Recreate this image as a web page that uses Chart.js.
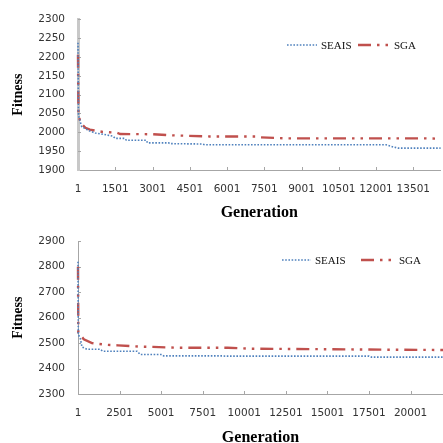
<!DOCTYPE html>
<html><head><meta charset="utf-8">
<script src="https://cdn.jsdelivr.net/npm/chart.js@4/dist/chart.umd.min.js"></script>
<style>
html,body{margin:0;padding:0;background:#fff;overflow:hidden;width:443px;height:443px;position:relative}
#w1{position:absolute;left:0;top:0;width:443px;height:222px}
#w2{position:absolute;left:0;top:222px;width:443px;height:226px}
</style></head><body>
<div id="w1"><canvas id="c1"></canvas></div>
<div id="w2"><canvas id="c2"></canvas></div>
<script>
// ---- data ----
const seriesNames = ['SEAIS', 'SGA'];

const topGenSEAIS = [1, 20, 150, 450, 700, 1000, 1400, 1500, 1880, 1950, 2750, 2800, 3650, 3700, 5000, 5100, 12400, 12700, 12900, 14600];
const topSEAIS    = [2238, 2045, 2015, 2004, 1998, 1995, 1990, 1984, 1984, 1979, 1979, 1972, 1972, 1970, 1969, 1967, 1967, 1961, 1958, 1958];
const topGenSGA   = [1, 20, 100, 300, 480, 1000, 1560, 1700, 3000, 3800, 5300, 7150, 7250, 8300, 14000, 14600];
const topSGA      = [2206, 2048, 2025, 2012, 2007, 2001, 1999, 1995.5, 1995, 1992, 1989, 1989, 1987, 1984, 1984, 1983];
const topXTicks   = [1, 1501, 3001, 4501, 6001, 7501, 9001, 10501, 12001, 13501];

const botGenSEAIS = [1, 20, 150, 240, 540, 1320, 1500, 3550, 3750, 5050, 5150, 8700, 8850, 17500, 17650, 21950];
const botSEAIS    = [2820, 2535, 2515, 2485, 2476, 2476, 2468, 2468, 2455, 2455, 2450, 2450, 2449, 2449, 2445, 2445];
const botGenSGA   = [1, 20, 150, 350, 840, 1750, 2400, 3700, 4500, 5900, 9000, 10300, 14800, 18700, 21950];
const botSGA      = [2800, 2542, 2531, 2515, 2500, 2493, 2491, 2486, 2485, 2482, 2482, 2478, 2476, 2474, 2473];
const botXTicks   = [1, 2501, 5001, 7501, 10001, 12501, 15001, 17501, 20001];

const xTitle = 'Generation';
const yTitle = 'Fitness';

// ---- helpers ----
function pts(g, v){ return g.map((x,i)=>({x:x, y:v[i]})); }

const innerTicks = {
  id: 'innerTicks',
  beforeDatasetsDraw(chart){
    const ctx = chart.ctx, xs = chart.scales.x, ys = chart.scales.y;
    ctx.save();
    ctx.strokeStyle = '#a6a6a6'; ctx.lineWidth = 1;
    ctx.beginPath();
    xs.ticks.forEach((t,i)=>{ if(i===0) return; const p = Math.round(xs.getPixelForValue(t.value))+0.5;
      ctx.moveTo(p, xs.top); ctx.lineTo(p, xs.top-3); });
    ys.ticks.forEach((t,i)=>{ if(i===0) return; const p = Math.round(ys.getPixelForValue(t.value))+0.5;
      ctx.moveTo(ys.right, p); ctx.lineTo(ys.right+3, p); });
    ctx.stroke();
    ctx.restore();
  }
};

const inLegend = {
  id: 'inLegend',
  afterDatasetsDraw(chart, args, opts){
    const ctx = chart.ctx;
    ctx.save();
    chart.data.datasets.forEach((ds,i)=>{
      const it = opts.items[i];
      ctx.strokeStyle = ds.borderColor; ctx.lineWidth = ds.borderWidth;
      ctx.setLineDash(ds.borderDash || []);
      ctx.beginPath(); ctx.moveTo(it[0], opts.y); ctx.lineTo(it[1], opts.y); ctx.stroke();
      ctx.setLineDash([]);
      ctx.fillStyle = '#111'; ctx.font = opts.font; ctx.textBaseline = 'middle'; ctx.textAlign = 'left';
      ctx.fillText(ds.label, it[2], opts.y + 1);
    });
    ctx.restore();
  }
};

function makeChart(id, cfg){
  return new Chart(document.getElementById(id), {
    type: 'line',
    data: { datasets: [
      { label: seriesNames[0], data: pts(cfg.gS, cfg.vS), borderColor: '#4f81bd', borderWidth: 1.6,
        borderDash: [1.6, 1.6], pointRadius: 0, tension: 0, clip: false },
      { label: seriesNames[1], data: pts(cfg.gG, cfg.vG), borderColor: '#c0504d', borderWidth: 2.4,
        borderDash: [13, 6, 2.5, 6, 2.5, 6], pointRadius: 0, tension: 0, clip: false }
    ]},
    options: {
      responsive: true, maintainAspectRatio: false, animation: false,
      layout: { padding: { top: cfg.padTop, left: 0, right: 0, bottom: 0 } },
      plugins: { legend: { display: false }, tooltip: { enabled: false },
        inLegend: { y: cfg.legY, items: cfg.legItems, font: '11px "Liberation Serif"' } },
      scales: {
        x: { type: 'linear', min: 1, max: cfg.xMax,
          afterBuildTicks: s => { s.ticks = cfg.xTicks.map(v=>({value:v})); },
          afterFit: s => { s.height = cfg.xH; },
          grid: { display: false, drawTicks: false },
          border: { display: true, color: '#a6a6a6', width: 1 },
          ticks: { autoSkip: false, maxRotation: 0, padding: 13, color: '#333',
            font: { family: '"DejaVu Sans"', size: 10.5 }, callback: v => String(v) },
          title: { display: true, text: xTitle, color: '#000', padding: { top: 0, bottom: cfg.xTitlePad },
            font: { family: '"Liberation Serif"', size: 16, weight: 'bold' } } },
        y: { min: cfg.yMin, max: cfg.yMax,
          ticks: { stepSize: cfg.yStep, padding: 13, color: '#333', font: { family: '"DejaVu Sans"', size: 10.5 },
            callback: v => String(v) },
          afterFit: s => { s.width = 78; },
          grid: { display: false, drawTicks: false },
          border: { display: true, color: cfg.yBorderColor, width: cfg.yBorderW },
          title: { display: true, text: yTitle, color: '#000', padding: { top: 10, bottom: 0 },
            font: { family: '"Liberation Serif"', size: 14, weight: 'bold' } } }
      }
    },
    plugins: [innerTicks, inLegend]
  });
}

makeChart('c1', { gS: topGenSEAIS, vS: topSEAIS, gG: topGenSGA, vG: topSGA,
  xMax: 14600, xTicks: topXTicks, yMin: 1900, yMax: 2300, yStep: 50,
  padTop: 17, xH: 52, xTitlePad: 0, yBorderColor: '#c8c8c8', yBorderW: 3,
  legY: 45, legItems: [[287, 317, 321], [358, 390, 394]] });

makeChart('c2', { gS: botGenSEAIS, vS: botSEAIS, gG: botGenSGA, vG: botSGA,
  xMax: 21950, xTicks: botXTicks, yMin: 2300, yMax: 2900, yStep: 100,
  padTop: 16, xH: 54, xTitlePad: 1, yBorderColor: '#a6a6a6', yBorderW: 1,
  legY: 38, legItems: [[282, 311, 315], [361, 394, 399]] });
</script>
</body></html>
